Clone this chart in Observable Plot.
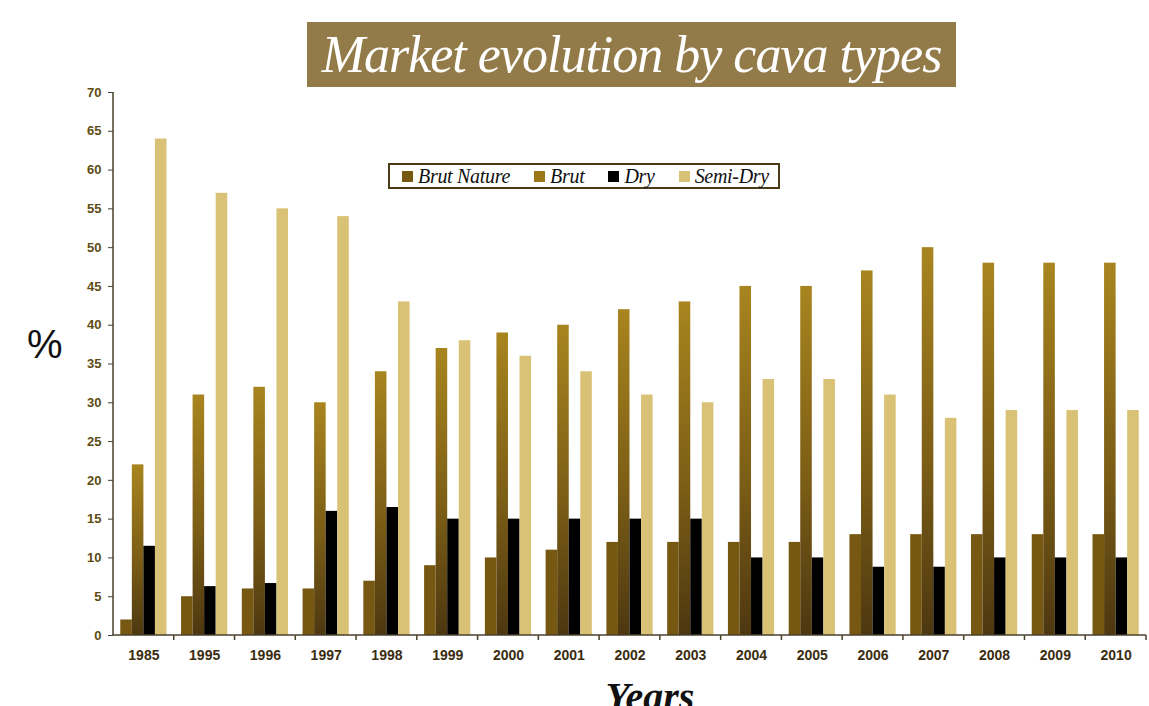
<!DOCTYPE html>
<html><head><meta charset="utf-8">
<script src="https://cdn.jsdelivr.net/npm/d3@7"></script>
<script src="https://cdn.jsdelivr.net/npm/@observablehq/plot@0.6"></script>
<style>
body{margin:0;background:#fff;}
#wrap{position:relative;width:1149px;height:706px;overflow:hidden;background:#fff}
#chart{position:absolute;left:0;top:0}
#title{position:absolute;left:307px;top:22px;width:649px;height:65px;background:#927b49;color:#fff;font:italic 52px "Liberation Serif",serif;display:flex;align-items:center;justify-content:center;letter-spacing:-1px;white-space:nowrap}
#legend{position:absolute;left:388px;top:163px;width:388px;height:22px;border:2px solid #4a3a18;background:#fff;display:flex;align-items:center;font:italic 20px "Liberation Serif",serif;color:#111;box-sizing:content-box;white-space:nowrap;letter-spacing:-0.3px}
#legend .item{display:flex;align-items:center;margin-left:24px}
#legend .item:first-child{margin-left:12px}
#legend .sw{width:11px;height:11px;margin-right:5px;display:inline-block}
#pct{position:absolute;left:27px;top:322px;font:40px "Liberation Sans",sans-serif;color:#111}
#years{position:absolute;left:0;width:1300px;text-align:center;top:673px;font:bold italic 40px "Liberation Serif",serif;color:#111}
g[aria-label^="y-axis"]{color:#4a3f2a}
g[aria-label^="y-axis"] text{fill:#5e4c14;font:bold 13px "Liberation Sans",Arial,sans-serif}
g[aria-label^="fx-axis"] text{fill:#3b2c10;font:bold 14px "Liberation Sans",Arial,sans-serif}
</style>
</head><body>
<svg width="0" height="0" style="position:absolute">
  <defs>
    <linearGradient id="brutGrad" x1="0" y1="0" x2="0" y2="1">
      <stop offset="0" stop-color="#a8851f"/>
      <stop offset="0.55" stop-color="#7c5e16"/>
      <stop offset="1" stop-color="#4d3710"/>
    </linearGradient>
  </defs>
</svg>
<div id="wrap">
  <div id="chart"></div>
  <div id="title">Market evolution by cava types</div>
  <div id="legend"></div>
  <div id="pct">%</div>
  <div id="years">Years</div>
</div>
<script>
const years = ["1985","1995","1996","1997","1998","1999","2000","2001","2002","2003","2004","2005","2006","2007","2008","2009","2010"];
const types = ["Brut Nature","Brut","Dry","Semi-Dry"];
const brutNature = [2,5,6,6,7,9,10,11,12,12,12,12,13,13,13,13,13];
const brut = [22,31,32,30,34,37,39,40,42,43,45,45,47,50,48,48,48];
const dry = [11.5,6.3,6.7,16,16.5,15,15,15,15,15,10,10,8.8,8.8,10,10,10];
const semiDry = [64,57,55,54,43,38,36,34,31,30,33,33,31,28,29,29,29];
const yTicks = [0,5,10,15,20,25,30,35,40,45,50,55,60,65,70];
const barFills = ["#775812","url(#brutGrad)","#000000","#d9c275"];
const swatchFills = ["#775812","#9a7818","#000000","#d9c275"];

const series = [brutNature, brut, dry, semiDry];
const rows = [];
years.forEach((yr, i) => types.forEach((t, k) => rows.push({year: yr, type: t, value: series[k][i]})));

const axisColor = "#4a3f2a";
let facetCount = 0;
function boundaryTicks(index, scales, values, dims) {
  const {width, height, marginRight, marginBottom, marginTop, marginLeft} = dims;
  const g = d3.create("svg:g").attr("stroke", axisColor).attr("stroke-width", 1.5);
  const xr = width - marginRight, yb = height - marginBottom;
  g.append("line").attr("x1", xr).attr("x2", xr).attr("y1", yb).attr("y2", yb + 5);
  g.append("line").attr("x1", marginLeft).attr("x2", xr).attr("y1", yb).attr("y2", yb);
  if (facetCount++ === 0) {
    g.append("line").attr("x1", marginLeft).attr("x2", marginLeft).attr("y1", marginTop).attr("y2", yb);
  }
  return g.node();
}

const plot = Plot.plot({
  width: 1149, height: 706,
  marginLeft: 113, marginRight: 3, marginTop: 92, marginBottom: 71,
  style: {background: "transparent", overflow: "visible"},
  fx: {domain: years, paddingInner: 0, paddingOuter: 0, round: false, label: null, tickSize: 0, tickPadding: 15, axis: "bottom"},
  x: {domain: types, paddingInner: 0, paddingOuter: 0.63, round: false, axis: null},
  y: {domain: [0, 70], ticks: yTicks, tickSize: 5, tickPadding: 7, label: null},
  color: {domain: types, range: barFills},
  marks: [
    Plot.barY(rows, {fx: "year", x: "type", y: "value", fill: "type"}),
    boundaryTicks
  ]
});
document.getElementById("chart").appendChild(plot);

const legend = document.getElementById("legend");
types.forEach((t, k) => {
  const it = document.createElement("div");
  it.className = "item";
  it.innerHTML = `<span class="sw" style="background:${swatchFills[k]}"></span><span>${t}</span>`;
  legend.appendChild(it);
});
</script>
</body></html>
